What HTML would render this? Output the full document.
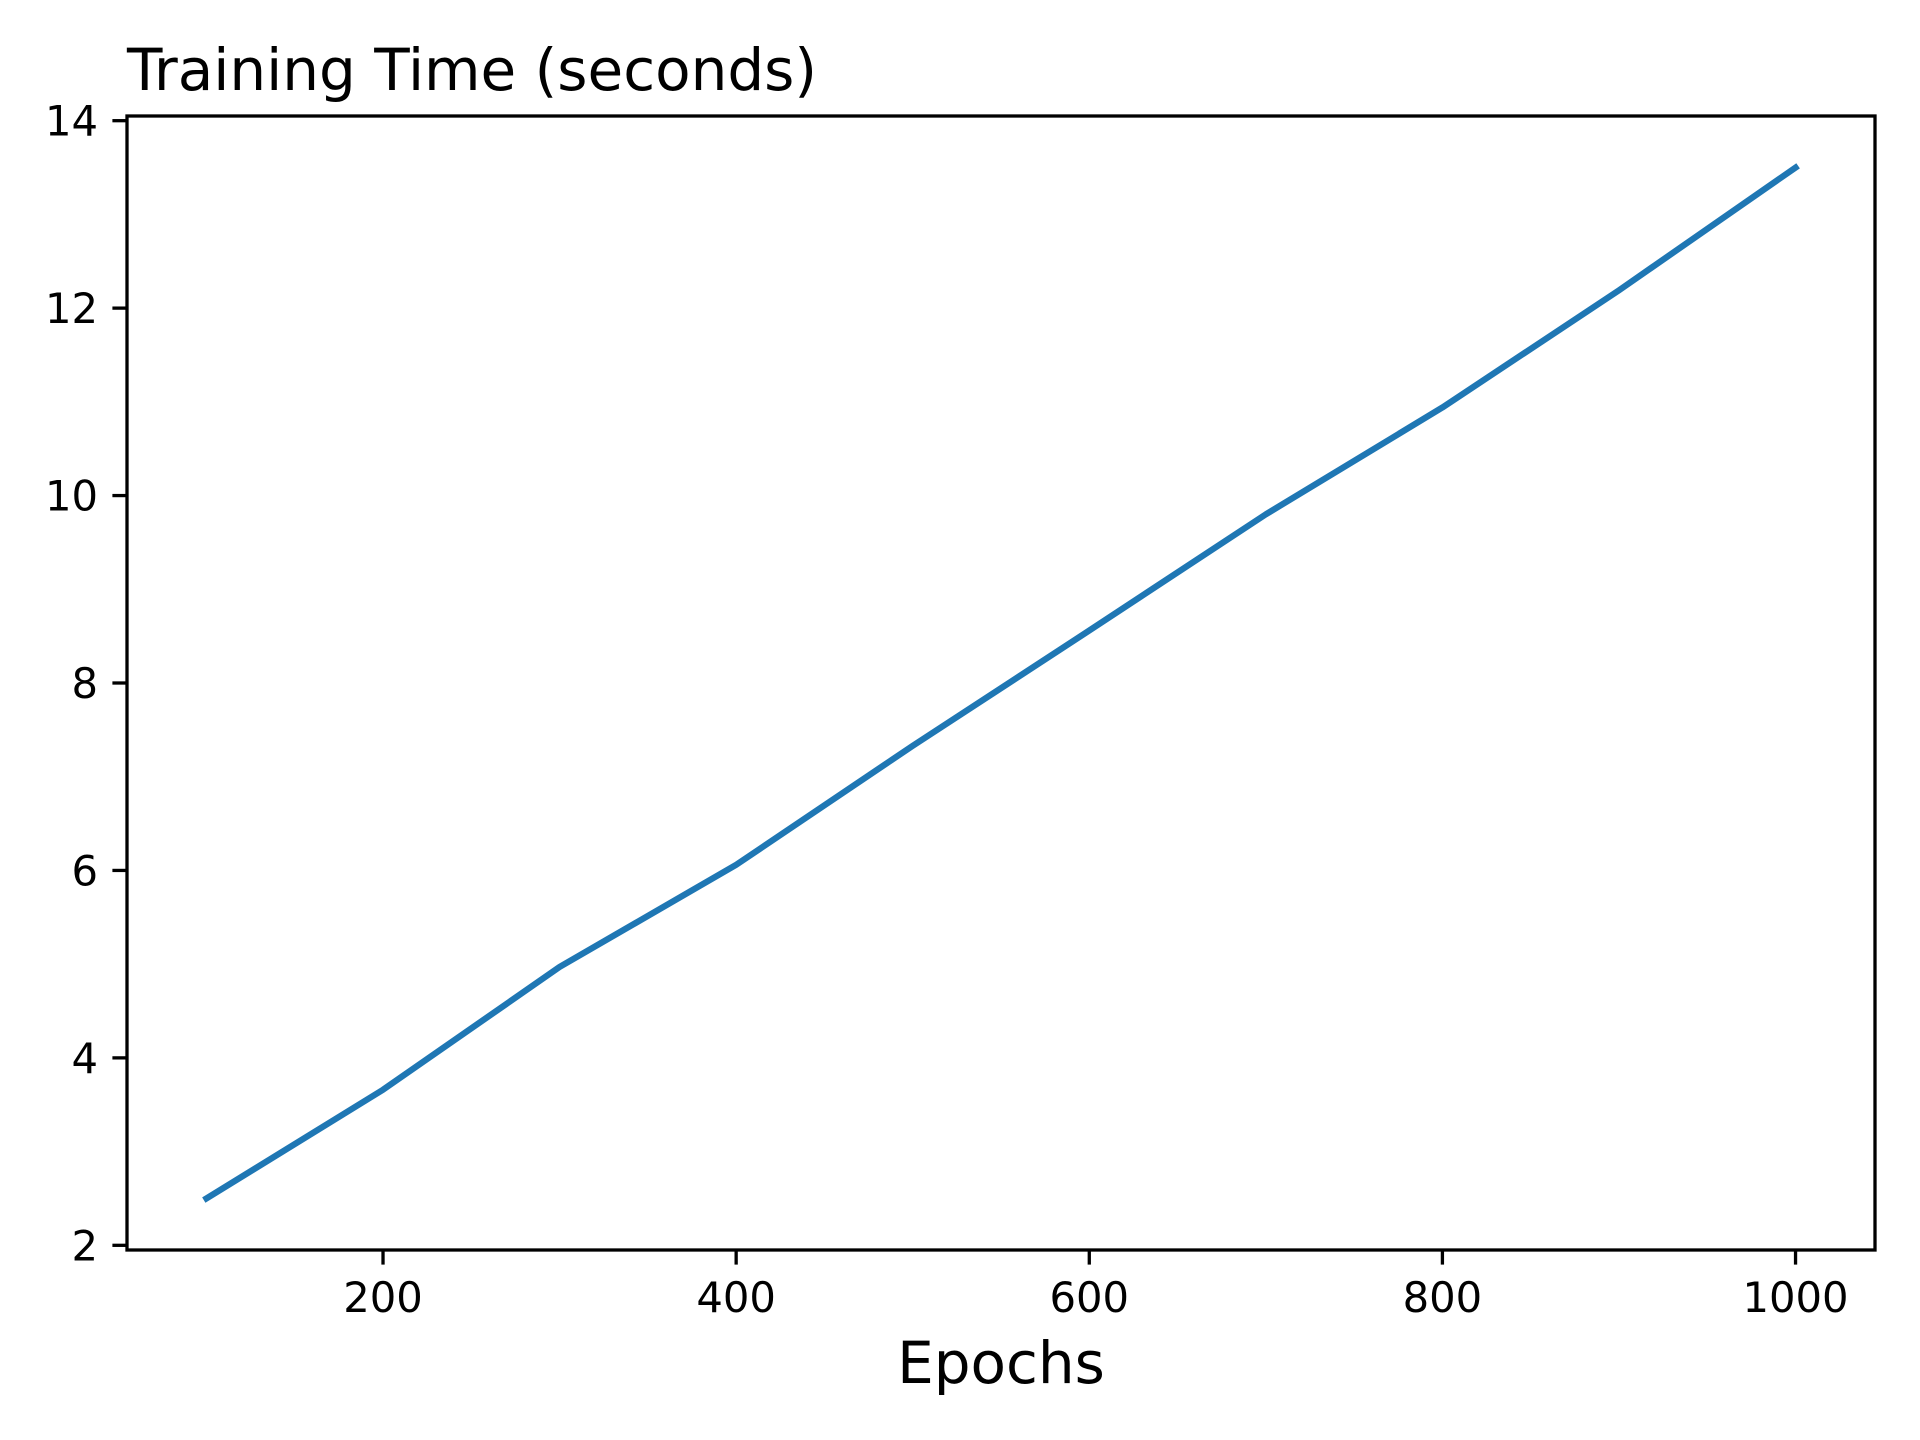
<!DOCTYPE html>
<html><head><meta charset="utf-8"><style>html,body{margin:0;padding:0;background:#fff}svg{display:block}</style></head>
<body>
<svg id="chart" width="1920" height="1440" viewBox="0 0 1920 1440" xmlns="http://www.w3.org/2000/svg" font-family="'DejaVu Sans','Liberation Sans',sans-serif">
<rect width="1920" height="1440" fill="#fff"/>
<text x="127" y="90" font-size="58">Training Time (seconds)</text>
<g id="ticks"></g>
<polyline id="line" fill="none" stroke="#1f77b4" stroke-width="6.25" stroke-linecap="square" stroke-linejoin="round"/>
<rect x="127" y="116" width="1748" height="1134" fill="none" stroke="#000" stroke-width="3.3"/>
<text x="1001" y="1383" font-size="58" text-anchor="middle">Epochs</text>
</svg>
<script>
const epochs=[100,200,300,400,500,600,700,800,900,1000];
const times=[2.5,3.66,4.97,6.06,7.33,8.56,9.8,10.94,12.19,13.5];
const xTicks=[200,400,600,800,1000];
const yTicks=[2,4,6,8,10,12,14];
const L=127,R=1875,T=116,B=1250;
const xmin=55,xmax=1045,ymin=1.95,ymax=14.05;
const sx=v=>L+(v-xmin)/(xmax-xmin)*(R-L);
const sy=v=>B-(v-ymin)/(ymax-ymin)*(B-T);
const NS='http://www.w3.org/2000/svg';
const line=document.getElementById('line');
line.setAttribute('points',epochs.map((e,i)=>sx(e)+','+sy(times[i])).join(' '));
const g=document.getElementById('ticks');
xTicks.forEach(t=>{
  const l=document.createElementNS(NS,'line');
  
  
  l.setAttribute('x1',sx(t));l.setAttribute('x2',sx(t));l.setAttribute('y1',B);l.setAttribute('y2',B+14.6);
  l.setAttribute('stroke','#000');l.setAttribute('stroke-width','3.3');g.appendChild(l);
  const tx=document.createElementNS(NS,'text');
  
  
  tx.setAttribute('x',sx(t));tx.setAttribute('y',1312);tx.setAttribute('font-size','41.7');tx.setAttribute('text-anchor','middle');
  tx.textContent=t;g.appendChild(tx);
});
yTicks.forEach(t=>{
  const l=document.createElementNS(NS,'line');
  
  
  l.setAttribute('x1',L-14.6);l.setAttribute('x2',L);l.setAttribute('y1',sy(t));l.setAttribute('y2',sy(t));
  l.setAttribute('stroke','#000');l.setAttribute('stroke-width','3.3');g.appendChild(l);
  const tx=document.createElementNS(NS,'text');
  
  
  tx.setAttribute('x',L-29);tx.setAttribute('y',sy(t)+15);tx.setAttribute('font-size','41.7');tx.setAttribute('text-anchor','end');
  tx.textContent=t;g.appendChild(tx);
});
</script>
</body></html>
